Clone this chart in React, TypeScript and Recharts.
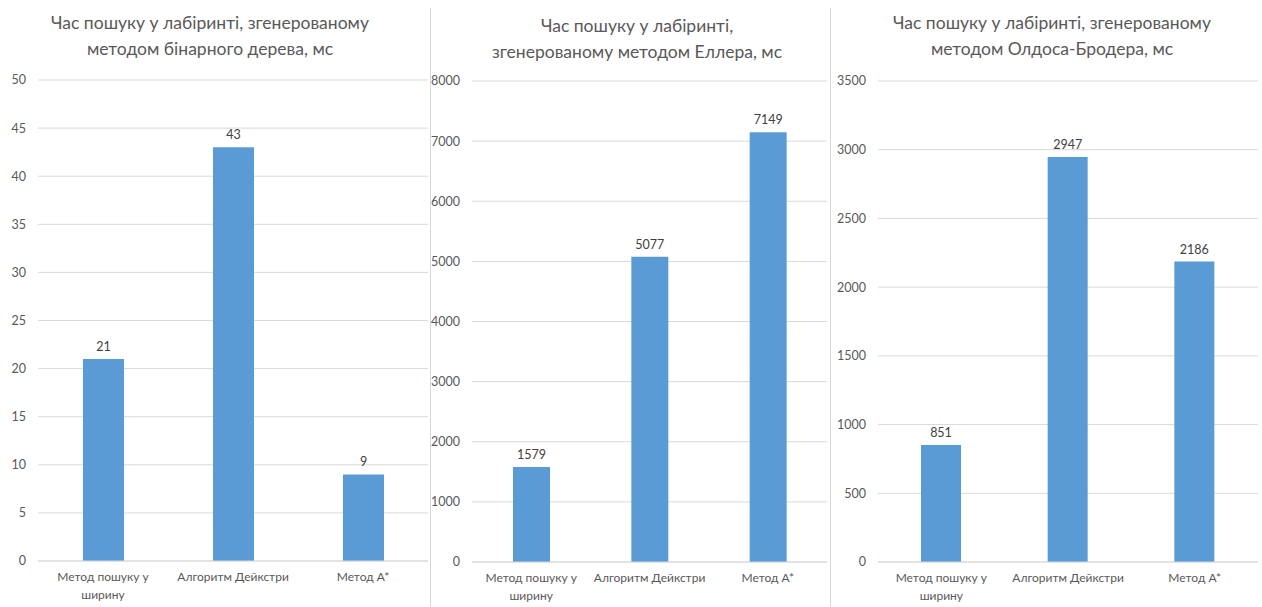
import React from 'react';
import { BarChart, Bar, XAxis, YAxis, CartesianGrid, LabelList } from 'recharts';

const categories = ['Метод пошуку у ширину', 'Алгоритм Дейкстри', 'Метод A*'];

const binaryTreeTimes = [21, 43, 9];
const ellerTimes = [1579, 5077, 7149];
const aldousBroderTimes = [851, 2947, 2186];

const binaryTreeTicks = [0, 5, 10, 15, 20, 25, 30, 35, 40, 45, 50];
const ellerTicks = [0, 1000, 2000, 3000, 4000, 5000, 6000, 7000, 8000];
const aldousBroderTicks = [0, 500, 1000, 1500, 2000, 2500, 3000, 3500];

const titles = [
  ['Час пошуку у лабіринті, згенерованому', 'методом бінарного дерева, мс'],
  ['Час пошуку у лабіринті,', 'згенерованому методом Еллера, мс'],
  ['Час пошуку у лабіринті, згенерованому', 'методом Олдоса-Бродера, мс'],
];

const FONT = 'Lato, "Open Sans", sans-serif';
const TEXT = '#595959';
const GRID = '#D9D9D9';
const BAR = '#5B9BD5';

// greedy word wrap by character count, like Excel does for narrow categories
const wrap = (s: string, max: number) => {
  const lines: string[] = [];
  let cur = '';
  s.split(' ').forEach((w) => {
    const next = cur ? cur + ' ' + w : w;
    if (next.length > max && cur) {
      lines.push(cur);
      cur = w;
    } else {
      cur = next;
    }
  });
  if (cur) lines.push(cur);
  return lines;
};

const CategoryTick = (props: any) => {
  const { x, y, payload } = props;
  const lines = wrap(String(payload.value), 17);
  return (
    <text x={x} y={y + 1} textAnchor="middle" fill={TEXT} fontSize={12} fontFamily={FONT}>
      {lines.map((l, i) => (
        <tspan key={i} x={x} dy={i === 0 ? '0.9em' : 18}>
          {l}
        </tspan>
      ))}
    </text>
  );
};

interface PanelProps {
  left: number;
  width: number;
  values: number[];
  ticks: number[];
  yWidth: number;
  rightMargin: number;
  top: number;
  bottom: number;
  barSize: number;
  title: string[];
  titleTop: number;
  titleCenter: number;
}

const Panel: React.FC<PanelProps> = (p) => {
  const data = categories.map((name, i) => ({ name, value: p.values[i] }));
  return (
    <div style={{ position: 'absolute', left: p.left, top: 0, width: p.width, height: 607 }}>
      <div
        style={{
          position: 'absolute',
          top: p.titleTop,
          left: p.titleCenter - 250,
          width: 500,
          textAlign: 'center',
          fontFamily: FONT,
          fontSize: 17.5,
          lineHeight: '26px',
          color: TEXT,
        }}
      >
        {p.title.map((t, i) => (
          <div key={i}>{t}</div>
        ))}
      </div>
      <BarChart
        width={p.width}
        height={607}
        data={data}
        margin={{ top: p.top, right: p.rightMargin, bottom: 0, left: 0 }}
      >
        <CartesianGrid vertical={false} stroke={GRID} />
        <XAxis
          dataKey="name"
          axisLine={{ stroke: GRID }}
          tickLine={false}
          interval={0}
          tick={<CategoryTick />}
          height={607 - p.bottom}
        />
        <YAxis
          domain={[p.ticks[0], p.ticks[p.ticks.length - 1]]}
          ticks={p.ticks}
          width={p.yWidth}
          axisLine={false}
          tickLine={false}
          tickSize={0}
          tickMargin={12}
          tick={{ fill: TEXT, fontSize: 12.5, fontFamily: FONT }}
        />
        <Bar dataKey="value" fill={BAR} barSize={p.barSize} isAnimationActive={false}>
          <LabelList
            dataKey="value"
            position="top"
            offset={8}
            fill="#404040"
            fontSize={12.5}
            fontFamily={FONT}
          />
        </Bar>
      </BarChart>
    </div>
  );
};

const App: React.FC = () => {
  return (
    <div
      style={{
        position: 'absolute',
        left: 0,
        top: 0,
        width: 1262,
        height: 607,
        background: '#fff',
        overflow: 'hidden',
      }}
    >
      <Panel
        left={0}
        width={430}
        values={binaryTreeTimes}
        ticks={binaryTreeTicks}
        yWidth={38}
        rightMargin={2}
        top={80}
        bottom={561}
        barSize={41}
        title={titles[0]}
        titleTop={10}
        titleCenter={210}
      />
      <Panel
        left={431}
        width={399}
        values={ellerTimes}
        ticks={ellerTicks}
        yWidth={41}
        rightMargin={3}
        top={81}
        bottom={562}
        barSize={37}
        title={titles[1]}
        titleTop={13}
        titleCenter={206}
      />
      <Panel
        left={831}
        width={431}
        values={aldousBroderTimes}
        ticks={aldousBroderTicks}
        yWidth={47}
        rightMargin={4}
        top={81}
        bottom={562}
        barSize={40}
        title={titles[2]}
        titleTop={10}
        titleCenter={221}
      />
      <div style={{ position: 'absolute', left: 430, top: 8, width: 1, height: 599, background: GRID }} />
      <div style={{ position: 'absolute', left: 830, top: 8, width: 1, height: 599, background: GRID }} />
    </div>
  );
};

export default App;
